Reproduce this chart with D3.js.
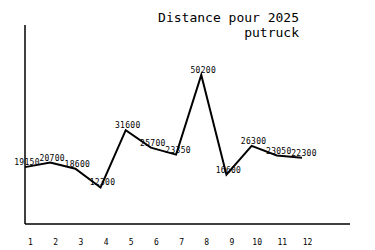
<!DOCTYPE html>
<html>
<head>
<meta charset="utf-8">
<script src="https://cdn.jsdelivr.net/npm/d3@7"></script>
<style>
	body { margin: 0; background: #fff; }
	text { font-family: 'DejaVu Sans Mono', monospace; fill: #000; }
</style>
</head>
<body>
<svg id="chart" width="375" height="250"></svg>
<script>
//Data------------------------------------------------------------------------
var months = [1, 2, 3, 4, 5, 6, 7, 8, 9, 10, 11, 12];
var distances = [19150, 20700, 18600, 12300, 31600, 25700, 23350, 50200, 16600, 26300, 23050, 22300];
var titleLines = ['Distance pour 2025', 'putruck'];

var svg = d3.select('#chart');

var plotLeft = 25, plotTop = 25, plotBottom = 224, axisEnd = 350;

var x = d3.scaleLinear()
	.domain([1, 12])
	.range([25, 302]);

var y = d3.scaleLinear()
	.domain([0, 67000])
	.range([plotBottom, plotTop]);

//title
svg.selectAll('text.title')
	.data(titleLines)
	.enter()
	.append('text')
	.classed('title', true)
	.attr('x', 299)
	.attr('y', function (d, i) { return 22 + i * 15; })
	.attr('text-anchor', 'end')
	.style('font-size', '13px')
	.text(function (d) { return d; });

//axis lines
svg.append('line')
	.attr('x1', plotLeft).attr('y1', plotTop)
	.attr('x2', plotLeft).attr('y2', plotBottom)
	.attr('stroke', '#000')
	.attr('stroke-width', 1.5);
svg.append('line')
	.attr('x1', plotLeft).attr('y1', plotBottom)
	.attr('x2', axisEnd).attr('y2', plotBottom)
	.attr('stroke', '#000')
	.attr('stroke-width', 1.5);

//month labels
var xAxis = svg.append('g')
	.attr('transform', 'translate(5,' + 236 + ')')
	.call(d3.axisBottom(x).tickValues(months).tickSize(0).tickFormat(d3.format('d')));
xAxis.select('.domain').remove();
xAxis.selectAll('text')
	.style('font-family', "'DejaVu Sans Mono', monospace")
	.style('font-size', '8px')
	.attr('fill', '#000');

//the line
var line = d3.line()
	.x(function (d, i) { return x(months[i]); })
	.y(function (d) { return y(d); });

svg.append('path')
	.datum(distances)
	.attr('d', line)
	.attr('fill', 'none')
	.attr('stroke', '#000')
	.attr('stroke-width', 2)
	.attr('stroke-linejoin', 'miter');

//value labels
svg.selectAll('text.val')
	.data(distances)
	.enter()
	.append('text')
	.classed('val', true)
	.attr('x', function (d, i) { return x(months[i]) + 2; })
	.attr('y', function (d) { return y(d) - 2; })
	.attr('text-anchor', 'middle')
	.style('font-size', '8px')
	.style('letter-spacing', '0.3px')
	.text(function (d) { return d; });
</script>
</body>
</html>
